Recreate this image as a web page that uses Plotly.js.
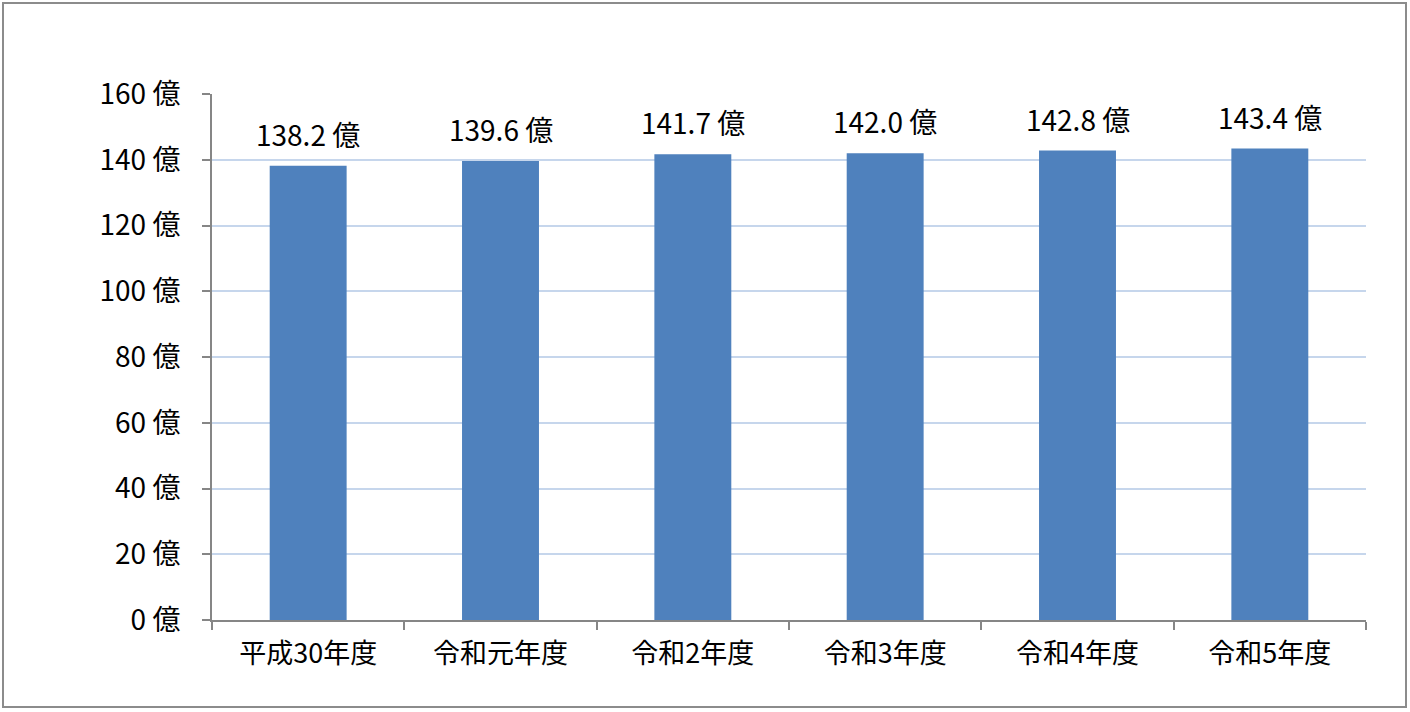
<!DOCTYPE html>
<html>
<head>
<meta charset="utf-8">
<script src="https://cdn.plot.ly/plotly-3.0.1.min.js"></script>
<style>html,body{margin:0;padding:0;background:#fff;}#chart{width:1410px;height:712px;}</style>
</head>
<body>
<div id="chart"></div>
<script>
var categories = ["平成30年度", "令和元年度", "令和2年度", "令和3年度", "令和4年度", "令和5年度"];
var values = [138.2, 139.6, 141.7, 142.0, 142.8, 143.4];
var yTickVals = [0, 20, 40, 60, 80, 100, 120, 140, 160];
var yTickText = ["0 億", "20 億", "40 億", "60 億", "80 億", "100 億", "120 億", "140 億", "160 億"];
var labels = values.map(function (v) { return v.toFixed(1) + " 億"; });

var FONT = "Noto Sans CJK JP, Noto Sans, sans-serif";

var trace = {
  type: "bar",
  x: categories,
  y: values,
  marker: { color: "#4F81BD", line: { width: 0 } },
  width: 0.4,
  hoverinfo: "skip"
};

var annotations = categories.map(function (c, i) {
  return {
    x: c, y: values[i], xref: "x", yref: "y",
    text: labels[i], showarrow: false,
    yanchor: "bottom", yshift: 10,
    font: { family: FONT, size: 28, color: "#000" }
  };
});

var layout = {
  width: 1410, height: 712,
  margin: { l: 212, r: 44, t: 94, b: 92 },
  paper_bgcolor: "#fff", plot_bgcolor: "#fff",
  showlegend: false,
  font: { family: FONT, size: 28, color: "#000" },
  xaxis: {
    type: "category",
    showline: true, linecolor: "#868686", linewidth: 2,
    ticks: "outside", tickson: "boundaries", ticklen: 8, tickcolor: "#868686", tickwidth: 2,
    showgrid: false,
    tickfont: { family: FONT, size: 27, color: "#000" },
    ticklabelstandoff: 9
  },
  yaxis: {
    range: [0, 160],
    tickvals: yTickVals, ticktext: yTickText,
    showline: true, linecolor: "#868686", linewidth: 2,
    ticks: "outside", ticklen: 8, tickcolor: "#868686", tickwidth: 2,
    showgrid: true, gridcolor: "#C6D6EC", gridwidth: 2,
    zeroline: false,
    tickfont: { family: FONT, size: 28, color: "#000" },
    ticklabelstandoff: 16
  },
  annotations: annotations,
  shapes: [{
    type: "rect", xref: "paper", yref: "paper",
    x0: (3 - 212) / 1154, x1: (1406 - 212) / 1154,
    y0: (620 - 707) / 526, y1: (620 - 3) / 526,
    line: { color: "#8C8C8C", width: 2 }, fillcolor: "rgba(0,0,0,0)",
    layer: "below"
  }]
};

Plotly.newPlot("chart", [trace], layout, { displayModeBar: false, staticPlot: true });
</script>
</body>
</html>
